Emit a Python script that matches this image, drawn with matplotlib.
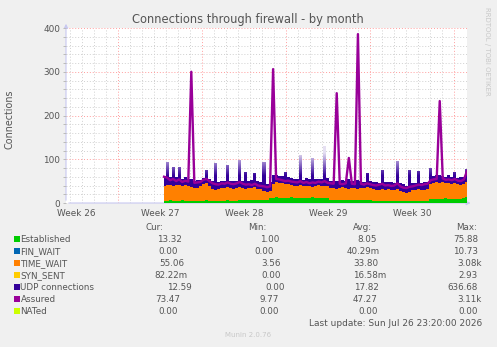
"""Munin fw_conntrack monthly graph - Connections through firewall."""
import numpy as np
import matplotlib
matplotlib.use("Agg")
import matplotlib.pyplot as plt
from matplotlib.patches import Rectangle
from matplotlib.colors import to_rgb

W, H = 497, 347

# ---- data (one sample every ~6h, days relative to the graph end) -------- #
START_DAY, STEP_DAY = -25.25, 0.2525

established = [5, 5, 6, 5, 5, 5, 6, 5, 5, 5, 4, 5, 5, 5, 6, 5, 5, 5, 5, 5, 5, 6, 5, 5, 5,
               6, 6, 7, 6, 6, 7, 6, 6, 7, 6,
               12, 12, 13, 12, 11, 12, 12, 13, 12, 12, 11, 12, 12, 12, 13, 12, 12, 11, 12, 12,
               8, 8, 7, 8, 8, 8, 7, 8, 8, 8, 8, 7, 8, 8,
               5, 5, 5, 4, 5, 5, 5, 5, 4, 5, 5, 5, 5, 5, 4, 5, 5, 5, 5,
               10, 10, 9, 10, 10, 11, 10, 10, 9, 10, 10, 11, 13]
time_wait = [35, 37, 35, 35, 37, 36, 33, 36, 35,
             31, 31, 30, 33, 39, 40, 35, 28, 25,
             28, 30, 29, 30, 29, 28, 30, 31, 28, 26, 29, 28, 29, 27, 26,
             21, 20, 15,
             32, 34, 34, 34, 31, 32, 29,
             28, 27, 30, 26, 28, 27, 24, 28, 29, 27, 27, 28,
             27, 26, 26, 27, 28, 26, 26, 27, 26, 25, 27, 27, 28, 26,
             26, 25, 24, 27, 25, 27, 25, 24, 27, 23, 20, 19, 21, 24, 26, 26, 24, 25, 27,
             34, 36, 38, 36, 38, 34, 36, 34, 36, 33, 32, 33, 35]
udp = [22, 52, 18, 43, 17, 42, 16, 18, 15, 20, 16, 17, 15, 14, 29, 15, 17, 61, 16, 15,
       17, 51, 16, 18, 15, 61, 17, 39, 16, 18, 32, 17, 16, 66, 18, 20, 19, 16, 15, 17,
       29, 15, 16, 14, 16, 69, 15, 17, 16, 66, 15, 14, 16, 91, 17, 15, 16, 18, 15, 17,
       16, 22, 15, 17, 19, 16, 15, 32, 16, 17, 18, 16, 44, 17, 15, 18, 16, 65, 17, 18,
       16, 49, 17, 15, 42, 16, 18, 17, 36, 15, 16, 19, 14, 15, 17, 16, 27, 15, 17, 16, 30]
assured = [60, 58, 52, 55, 50, 54, 48, 51, 49, 300, 46, 47, 48, 53, 55, 50, 45, 43, 42, 45,
           44, 47, 44, 43, 45, 48, 44, 42, 43, 41, 44, 40, 39, 38, 36, 38, 306, 55, 54, 52,
           50, 51, 49, 48, 47, 50, 46, 48, 45, 47, 46, 49, 47, 50, 46, 45, 44, 251, 44, 43,
           45, 103, 44, 43, 386, 44, 42, 45, 43, 41, 40, 42, 44, 40, 41, 39, 40, 45, 38, 35,
           34, 37, 38, 40, 42, 41, 43, 44, 52, 54, 55, 233, 56, 53, 54, 52, 55, 51, 50, 54, 73]

legend_names = ['Established', 'FIN_WAIT', 'TIME_WAIT', 'SYN_SENT',
                'UDP connections', 'Assured', 'NATed']
legend_colors = ['#00CC00', '#0066B3', '#FF8000', '#FFCC00', '#330099', '#990099', '#CCFF00']
cur_vals = ['13.32', '0.00', '55.06', '82.22m', '12.59', '73.47', '0.00']
min_vals = ['1.00', '0.00', '3.56', '0.00', '0.00', '9.77', '0.00']
avg_vals = ['8.05', '40.29m', '33.80', '16.58m', '17.82', '47.27', '0.00']
max_vals = ['75.88', '10.73', '3.08k', '2.93', '636.68', '3.11k', '0.00']
week_labels = ['Week 26', 'Week 27', 'Week 28', 'Week 29', 'Week 30']

# pixel x of each value column (left edge), measured per row
cur_x = [157, 158, 159, 154, 167, 155, 158]
min_x = [260, 254, 261, 261, 265, 259, 259]
avg_x = [357, 347, 353, 353, 354, 353, 358]
max_x = [453, 453, 457, 458, 447, 457, 458]

TXT = '#555555'
LIGHT = '#c8c8f0'


def fx(x):
    return x / W


def fy(y):
    return 1 - y / H


fig = plt.figure(figsize=(W / 100, H / 100), dpi=100, facecolor='#f0f0f0')
ax = fig.add_axes([fx(66), fy(203), 401 / W, 175 / H])
ax.set_facecolor('white')

t = START_DAY + STEP_DAY * np.arange(len(assured))
est = np.array(established, float)
tw = np.array(time_wait, float)
ud = np.array(udp, float)

# grid (minor: day / 20, major: week / 100)
first_week = -1.05
for d in np.arange(first_week, -34, -1.0):
    major = abs(((d - first_week) / 7) - round((d - first_week) / 7)) < 1e-6
    ax.axvline(d, color='#ff9d9d' if major else '#d0d0d0', lw=0.7,
               ls=(0, (1, 2)), zorder=0)
for v in range(20, 401, 20):
    ax.axhline(v, color='#ff9d9d' if v % 100 == 0 else '#d0d0d0', lw=0.7,
               ls=(0, (1, 2)), zorder=0)

ax.fill_between(t, 0, est, color='#00CC00', lw=0, step='mid', zorder=2)
ax.fill_between(t, est, est + tw, color='#FF8000', lw=0, step='mid', zorder=2)

# UDP area: solid in the body, thin peaks fade out like the rrdtool render
udp_poly = ax.fill_between(t, est + tw, est + tw + ud, color='none', lw=0, step='mid')
yy = np.linspace(0, 400, 400)
mix = np.clip((yy - 62) / 60, 0, 0.88)[:, None]
dark = np.array(to_rgb('#330099'))
grad = dark * (1 - mix) + np.ones(3) * mix
im = ax.imshow(grad[:, None, :], extent=(t[0] - STEP_DAY / 2, t[-1] + STEP_DAY / 2, 0, 400),
               origin='lower', aspect='auto', zorder=2, interpolation='bilinear')
im.set_clip_path(udp_poly.get_paths()[0], ax.transData)

ax.plot(t, assured, color='#990099', lw=1.7, zorder=3)

ax.set_xlim(-33.42, 0)
ax.set_ylim(0, 400)
for s in ax.spines.values():
    s.set_visible(False)

ax.set_yticks(range(0, 401, 100))
ax.set_yticks(range(0, 401, 20), minor=True)
ax.tick_params(axis='y', which='both', length=2.2, width=0.7, color='#bbbbbb',
               labelsize=6.4, labelcolor=TXT, pad=2)
ax.set_xticks([first_week - 3.5 - 7 * k for k in range(4, -1, -1)], week_labels)
ax.tick_params(axis='x', length=0, labelsize=6.4, labelcolor=TXT, pad=4)

# axis lines with arrows (under the data)
ax.annotate('', xy=(1.016, 0), xytext=(0, 0), xycoords='axes fraction',
            arrowprops=dict(arrowstyle='-|>', color=LIGHT, lw=0.8, mutation_scale=6),
            annotation_clip=False, zorder=1)
ax.annotate('', xy=(0, 1.04), xytext=(0, 0), xycoords='axes fraction',
            arrowprops=dict(arrowstyle='-|>', color=LIGHT, lw=0.8, mutation_scale=6),
            annotation_clip=False, zorder=1)

fig.text(fx(248), fy(20), 'Connections through firewall - by month', ha='center',
         va='center', fontsize=8.3, color=TXT)
fig.text(fx(9.5), fy(119), 'Connections', rotation=90, ha='center', va='center',
         fontsize=6.9, color=TXT)
fig.text(fx(487.5), fy(51), 'RRDTOOL / TOBI OETIKER', rotation=270, ha='center',
         va='center', fontsize=5, color='#c8c8c8')

# legend table
for lbl, x in zip(['Cur:', 'Min:', 'Avg:', 'Max:'], [146, 248, 353, 456]):
    fig.text(fx(x), fy(227), lbl, ha='left', va='center', fontsize=6.3, color=TXT)
for r, name in enumerate(legend_names):
    y = 239.3 + 12 * r
    fig.patches.append(Rectangle((fx(14), fy(y + 3)), 6 / W, 6 / H, transform=fig.transFigure,
                                 facecolor=legend_colors[r], edgecolor='none'))
    fig.text(fx(20.5), fy(y), name, ha='left', va='center', fontsize=6.3, color=TXT)
    for vals, xs in [(cur_vals, cur_x), (min_vals, min_x), (avg_vals, avg_x), (max_vals, max_x)]:
        fig.text(fx(xs[r]), fy(y), vals[r], ha='left', va='center', fontsize=6.3, color=TXT)

fig.text(fx(482), fy(323.3), 'Last update: Sun Jul 26 23:20:00 2026', ha='right',
         va='center', fontsize=6.5, color=TXT)
fig.text(fx(248), fy(335), 'Munin 2.0.76', ha='center', va='center', fontsize=5,
         color='#c8c8c8')

fig.savefig('out.png', dpi=100, facecolor=fig.get_facecolor())
